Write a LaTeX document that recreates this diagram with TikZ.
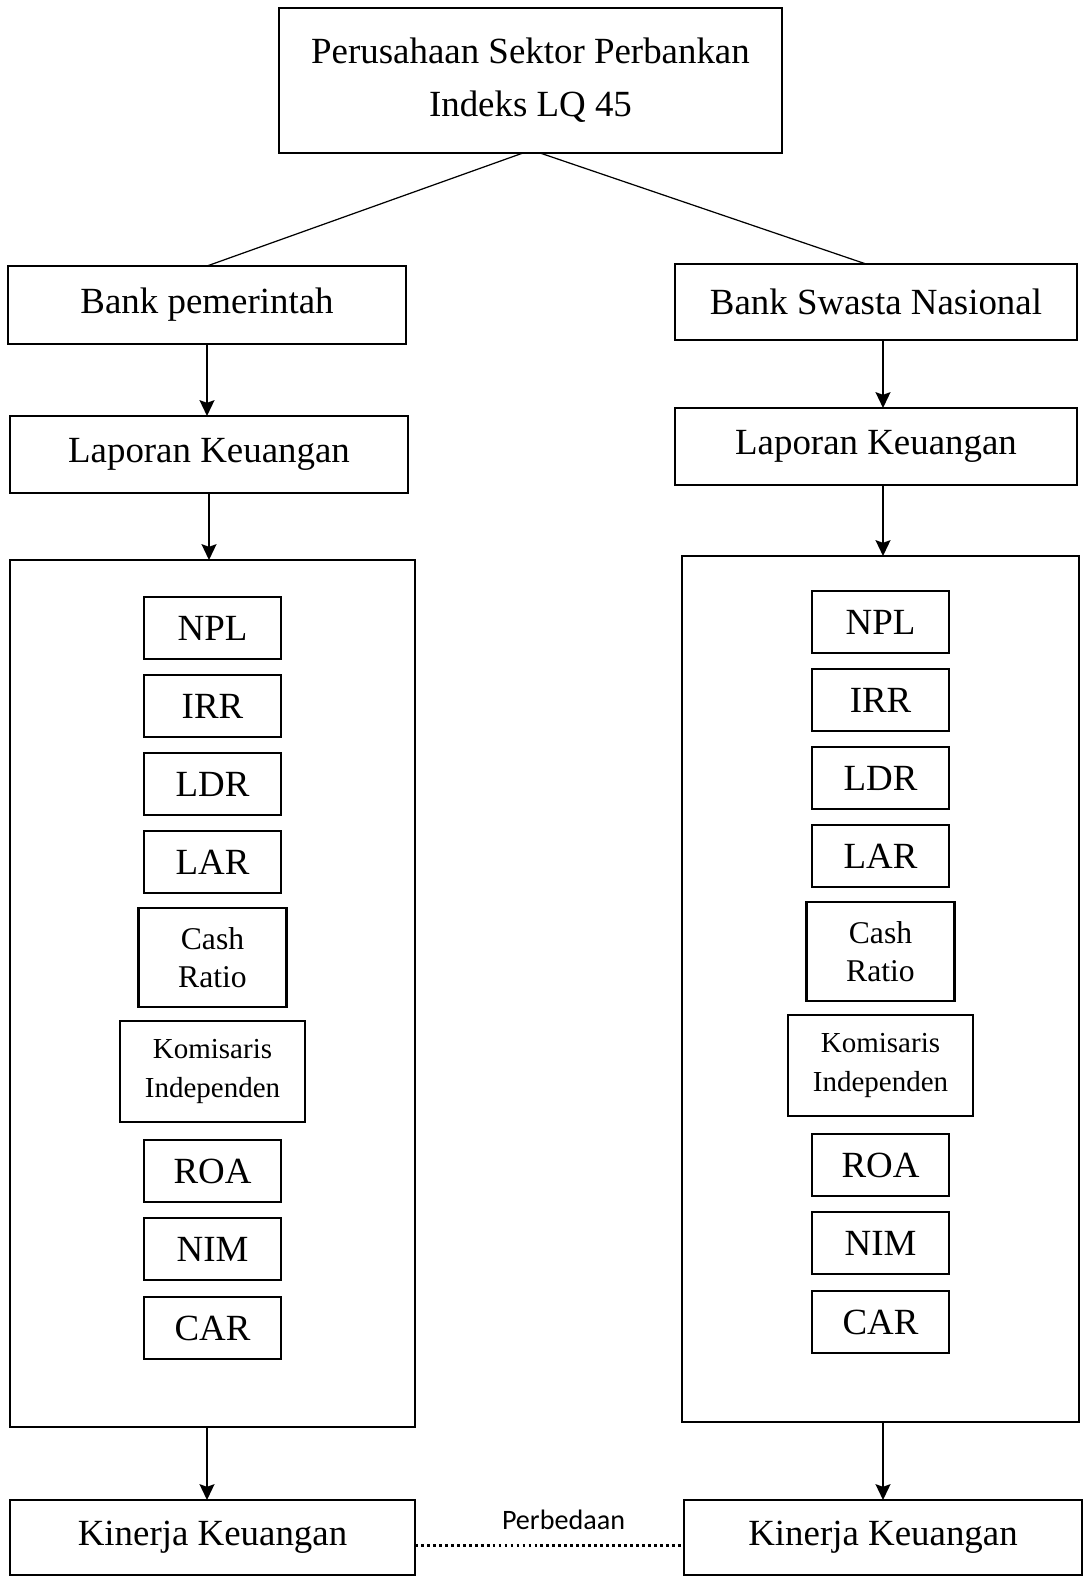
\documentclass[tikz,border=0pt]{standalone}
\usepackage{fontspec}
\setmainfont{Liberation Serif}
\newfontfamily\notefont{Carlito}
\usetikzlibrary{positioning}
\usetikzlibrary{arrows.meta}

\begin{document}
\begin{tikzpicture}[-{Stealth[length=9pt,width=8.5pt,inset=1.5pt]},line width=1.1pt,
					font=\fontsize{21}{26}\selectfont]
					\tikzstyle{box}=[draw,line width=1.2pt,align=center,inner sep=0pt,outer sep=0pt]
					\tikzstyle{ratio}=[box,minimum width=2.74cm,minimum height=1.24cm]
					\tikzstyle{tworow}=[ratio,font=\fontsize{18}{22}\selectfont]
					
					\useasboundingbox (0,0) rectangle (21.72,-31.56);
					
					\node[box,minimum width=10.06cm,minimum height=2.9cm] (P)   at (10.61,-1.61)  {Perusahaan Sektor Perbankan\\[4pt]Indeks LQ 45};
					\node[box,minimum width=7.96cm,minimum height=1.56cm] (B_1) at (4.14,-6.1)    {Bank pemerintah};
					\node[box,minimum width=8.04cm,minimum height=1.52cm] (B_2) at (17.52,-6.04)  {Bank Swasta Nasional};
					\node[box,minimum width=7.96cm,minimum height=1.54cm] (L_1) at (4.18,-9.09)   {Laporan Keuangan};
					\node[box,minimum width=8.04cm,minimum height=1.54cm] (L_2) at (17.52,-8.93)  {Laporan Keuangan};
					\node[box,minimum width=8.1cm,minimum height=17.34cm] (R_1) at (4.25,-19.87)  {};
					\node[box,minimum width=7.94cm,minimum height=17.32cm] (R_2) at (17.61,-19.78) {};
					\node[box,minimum width=8.1cm,minimum height=1.5cm]   (K_1) at (4.25,-30.75)  {Kinerja Keuangan};
					\node[box,minimum width=7.96cm,minimum height=1.5cm]  (K_2) at (17.66,-30.75) {Kinerja Keuangan};
					
					% rasio bank pemerintah
					\node[ratio]  (npl_1)  [below=0.74cm of R_1.north] {NPL};
					\node[ratio]  (irr_1)  [below=0.32cm of npl_1]     {IRR};
					\node[ratio]  (ldr_1)  [below=0.32cm of irr_1]     {LDR};
					\node[ratio]  (lar_1)  [below=0.32cm of ldr_1]     {LAR};
					\node[tworow,minimum width=2.96cm,minimum height=1.98cm] (cash_1) [below=0.3cm of lar_1] {Cash\\Ratio};
					\node[tworow,minimum width=3.7cm,minimum height=2.02cm,font=\fontsize{16.5}{22}\selectfont] (kom_1) [below=0.28cm of cash_1] {Komisaris\\Independen};
					\node[ratio]  (roa_1)  [below=0.36cm of kom_1]     {ROA};
					\node[ratio]  (nim_1)  [below=0.32cm of roa_1]     {NIM};
					\node[ratio]  (car_1)  [below=0.34cm of nim_1]     {CAR};
					
					% rasio bank swasta nasional
					\node[ratio]  (npl_2)  [below=0.7cm of R_2.north]  {NPL};
					\node[ratio]  (irr_2)  [below=0.32cm of npl_2]     {IRR};
					\node[ratio]  (ldr_2)  [below=0.32cm of irr_2]     {LDR};
					\node[ratio]  (lar_2)  [below=0.32cm of ldr_2]     {LAR};
					\node[tworow,minimum width=2.96cm,minimum height=1.98cm] (cash_2) [below=0.3cm of lar_2] {Cash\\Ratio};
					\node[tworow,minimum width=3.7cm,minimum height=2.02cm,font=\fontsize{16.5}{22}\selectfont] (kom_2) [below=0.28cm of cash_2] {Komisaris\\Independen};
					\node[ratio]  (roa_2)  [below=0.36cm of kom_2]     {ROA};
					\node[ratio]  (nim_2)  [below=0.32cm of roa_2]     {NIM};
					\node[ratio]  (car_2)  [below=0.34cm of nim_2]     {CAR};
					
					\path[-,line width=0.7pt] ([xshift=-0.15cm]P.south) edge (B_1.north)
					([xshift=0.19cm]P.south) edge ([xshift=-0.2cm]B_2.north);
					
					\path (B_1.south) edge (B_1.south |- L_1.north)
					(L_1.south) edge (L_1.south |- R_1.north)
					(B_1.south |- R_1.south) edge (B_1.south |- K_1.north)
					([xshift=0.14cm]B_2.south) edge ([xshift=0.14cm]B_2.south |- L_2.north)
					([xshift=0.14cm]L_2.south) edge ([xshift=0.14cm]L_2.south |- R_2.north)
					(K_2.north |- R_2.south) edge (K_2.north);
					
					\path[-,line width=1.8pt,dash pattern=on 1.6pt off 1.8pt]
					([yshift=-0.16cm]K_1.east) edge node[above=0.16cm,xshift=0.28cm,font=\notefont\fontsize{16}{19}\selectfont] {Perbedaan} ([yshift=-0.16cm]K_2.west);
					
					\end{tikzpicture}
\end{document}
